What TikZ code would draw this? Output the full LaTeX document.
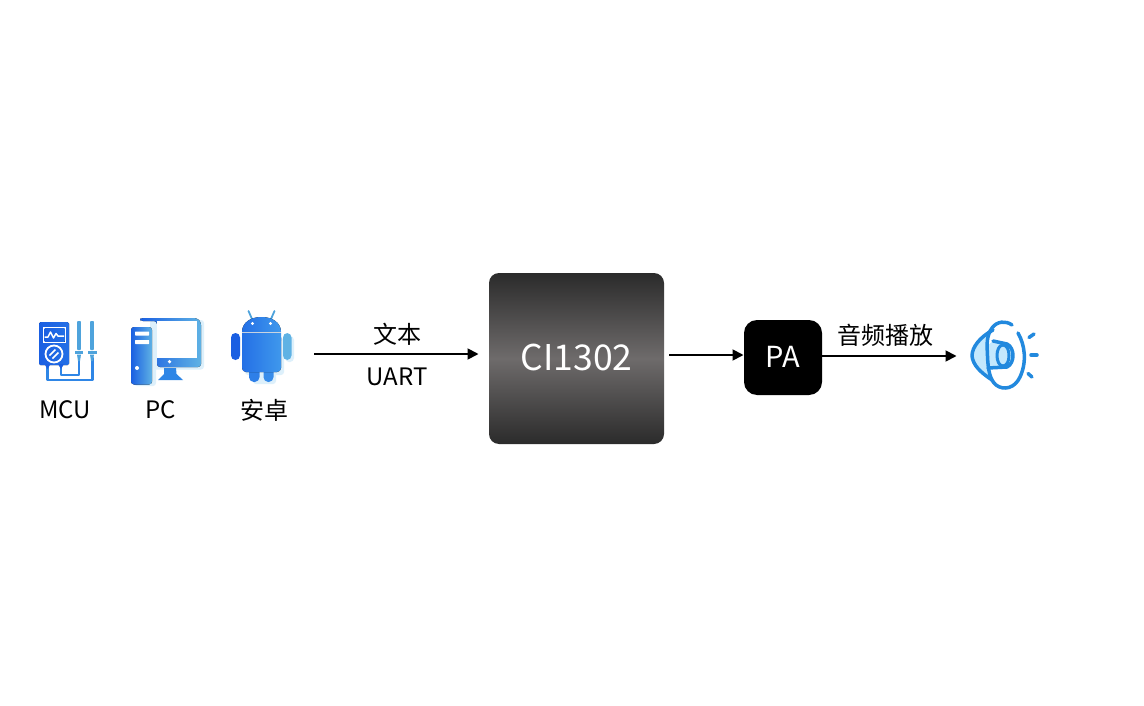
\documentclass[tikz,border=0pt]{standalone}
\usepackage{fontspec}
\setmainfont{Noto Sans CJK SC}
\usetikzlibrary{arrows.meta}
\definecolor{bluedark}{HTML}{1A5FE2}
\definecolor{bluelight}{HTML}{5FB2E4}
\definecolor{bluemid}{HTML}{2F86E6}
\definecolor{bodyl}{HTML}{2470E6}
\definecolor{bodyr}{HTML}{3F98EC}
\definecolor{probe}{HTML}{4EA3DC}
\definecolor{halo}{HTML}{DDF0FB}
\definecolor{spk}{HTML}{2289DE}
\definecolor{spkfill}{HTML}{C4E8FD}
\definecolor{chipdark}{HTML}{2B2B2B}
\definecolor{chipmid}{HTML}{6E6B6B}
\tikzset{
  lbl/.style={text=black,inner sep=0pt,font=\fontsize{24}{28}\selectfont},
  boxlbl/.style={text=white,inner sep=0pt},
  conn/.style={draw=black,line width=1.8pt,-{Triangle[length=11pt,width=11pt]}},
  grad/.style={left color=bluedark,right color=bluelight,draw=none},
  andr/.style={left color=bodyl,right color=bodyr,draw=none},
  wire/.style={draw=bluemid,line width=2.4pt,line cap=round,line join=round},
  spkline/.style={draw=spk,line width=3.5pt,line cap=round,line join=round},
}
\begin{document}
\begin{tikzpicture}[x=1pt,y=-1pt]
\useasboundingbox[fill=white] (0,0) rectangle (1144,706);
% chip and PA
\node[rounded corners=10pt,minimum width=175pt,minimum height=171pt,inner sep=0pt,
  top color=chipdark,bottom color=chipdark,middle color=chipmid,
  boxlbl,font=\fontsize{35.5}{40}\selectfont] (chip) at (576.5,358.5) {\raisebox{2pt}{CI1302}};
\node[fill=black,rounded corners=13pt,minimum width=78pt,minimum height=75pt,inner sep=0pt,
  boxlbl,font=\fontsize{29}{32}\selectfont] (pa) at (783,357.5) {\raisebox{1.5pt}{PA}};
% connectors
\coordinate (srcout) at (314,354);
\coordinate (chipin) at (478.5,354);
\coordinate (chipout) at (669,355);
\coordinate (pain) at (743.5,355);
\coordinate (paout) at (822,356);
\coordinate (spkin) at (956.5,356);
\draw[conn] (srcout) -- (chipin);
\draw[conn] (chipout) -- (pain);
\draw[conn] (paout) -- (spkin);
% labels
\node[lbl] (t1) at (397,334) {文本};
\node[lbl] (t2) at (397,377) {UART};
\node[lbl] (t3) at (885,335) {音频播放};
\node[lbl] (m) at (65,410) {MCU};
\node[lbl] (p) at (160.5,410) {PC};
\node[lbl] (a) at (264,410) {安卓};
% multimeter
\fill[left color=bluedark,right color=bodyl,rounded corners=1.5pt] (39,322) rectangle (69,365);
\fill[white] (43,327) rectangle (66,343);
\fill[left color=bluedark,right color=bodyl] (44.5,328.5) rectangle (64.5,341.5);
\draw[white,line width=1.5pt,line join=round] (44.5,337) -- (48,337) -- (50.5,332) -- (53.5,338) -- (56,333.5) -- (58,336) -- (64,336);
\draw[white,line width=1.8pt] (54,354) circle (8.5);
\draw[white,line width=1.5pt] (49.5,355.5) -- (55.5,349.5) (52.5,358.5) -- (58.5,352.5);
\draw[wire] (47.5,366) -- (47.5,380) -- (92.5,380) -- (92.5,358);
\draw[wire] (61,366) -- (61,375) -- (79,375) -- (79,358);
\fill[bluedark] (44.5,364) -- (50.5,364) -- (47.5,369) -- cycle;
\fill[bluedark] (58,364) -- (64,364) -- (61,369) -- cycle;
\fill[probe,rounded corners=.8pt] (77.2,321) -- (80.8,321) -- (81,350) -- (77,350) -- cycle;
\fill[probe,rounded corners=.8pt] (90.2,321) -- (93.8,321) -- (94,350) -- (90,350) -- cycle;
\fill[probe] (75,350.5) rectangle (83,354);
\fill[probe] (88,350.5) rectangle (96.5,354);
\fill[probe] (77,354.5) -- (81,354.5) -- (80,361) -- (78,361) -- cycle;
\fill[probe] (90,354.5) -- (94,354.5) -- (93,361) -- (91,361) -- cycle;
% PC
\fill[halo,rounded corners=3pt] (134,330) rectangle (156,386);
\fill[halo,rounded corners=3pt] (150,320) rectangle (204,369.5);
\fill[grad,rounded corners=3pt] (140,318) -- (197,318) -- (201,322) -- (201,367) -- (157,367) -- (157,321) -- (140,321) -- cycle;
\fill[white] (157,321) rectangle (196.5,357.5);
\fill[white] (169.5,361.7) circle (1.8);
\fill[bluemid] (164,368) -- (176,368) -- (176.5,374) -- (183,380) -- (158,380) -- (164,374) -- cycle;
\fill[grad,rounded corners=3pt] (131,327) rectangle (152,384.5);
\fill[white,rounded corners=.5pt] (135,331.5) rectangle (149,335.5);
\fill[white,rounded corners=.5pt] (135,340) rectangle (149,344);
\fill[white] (137,368) circle (2);
% android
\fill[halo,rounded corners=3pt] (245,338) rectangle (284,375);
\fill[halo,rounded corners=3pt] (253,372) rectangle (276,384);
\fill[halo,rounded corners=4pt] (285,336) rectangle (294,362);
\draw[probe,line width=1.8pt,line cap=round] (252,319) -- (248.5,311);
\draw[probe,line width=1.8pt,line cap=round] (271,319) -- (274.5,311);
\fill[andr] (242,332) .. controls (242,323) and (250,317) .. (261.5,317) .. controls (273,317) and (281,323) .. (281,332) -- cycle;
\fill[bodyl!62!bodyr,rounded corners=4.8pt] (249,366) rectangle (259.5,382);
\fill[bodyl!30!bodyr,rounded corners=4.8pt] (263.5,366) rectangle (273.5,382);
\fill[andr,rounded corners=4pt] (242,333.5) rectangle (281,372);
\fill[andr] (242,333.5) rectangle (281,340);
\fill[white] (252.5,323.5) circle (1.6);
\fill[white] (270.5,323.5) circle (1.6);
\fill[bluedark,rounded corners=4.5pt] (231,333) rectangle (240,360);
\fill[bluelight,rounded corners=4.5pt] (283,333) rectangle (291.5,360);
% speaker
\fill[spkfill] (993,330) .. controls (980,337) and (972,347) .. (972,356) .. controls (973,365) and (980,372) .. (992,380) .. controls (988,373) and (987,365) .. (987,356) .. controls (987,345) and (989,337) .. (993,330) -- cycle;
\fill[spkfill] (993,341) -- (1007,344) -- (1013,355) -- (1007,367) -- (988,368) -- (988,345) -- cycle;
\draw[spkline] (1012,325) .. controls (1006,320.5) and (997,321) .. (992,328) .. controls (986,336) and (987,345) .. (987.5,356) .. controls (988,370) and (990,380) .. (996,385) .. controls (1004,391) and (1015,388) .. (1020,377) .. controls (1027,362) and (1025,345) .. (1018,333);
\draw[spkline] (993,330) .. controls (980,337) and (972,347) .. (972,356) .. controls (973,365) and (980,372) .. (992,380);
\draw[spkline] (993,341) -- (1007,344);
\draw[spkline] (988,368) -- (1007,367);
\draw[spkline] (1007,344) .. controls (1015,348) and (1015,363) .. (1007,367);
\draw[spkline,line width=3pt] (1003,345) .. controls (995,345) and (995,366) .. (1003,366) .. controls (1011,366) and (1011,345) .. (1003,345) -- cycle;
\draw[spkline] (1029,337.5) -- (1034,334);
\draw[spkline] (1031,355) -- (1037,355);
\draw[spkline] (1028,373.5) -- (1032,377);
\end{tikzpicture}
\end{document}
